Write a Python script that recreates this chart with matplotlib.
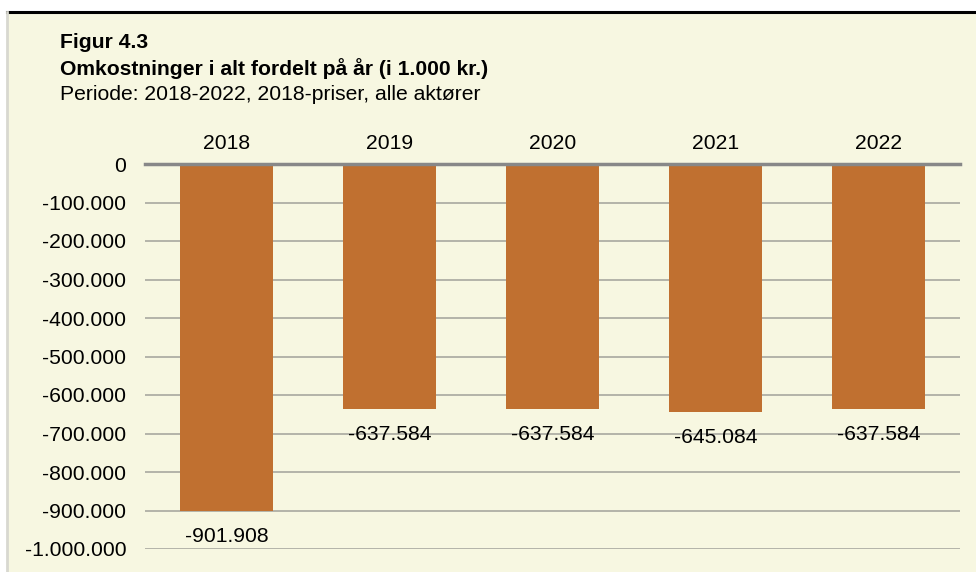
import matplotlib.pyplot as plt
from matplotlib.patches import Rectangle
from matplotlib.lines import Line2D
from matplotlib.ticker import FuncFormatter

plt.rcParams['font.family'] = ['Liberation Sans', 'DejaVu Sans']

years = ['2018', '2019', '2020', '2021', '2022']
costs = [-901908, -637584, -637584, -645084, -637584]

BG = '#F7F7E1'
BAR = '#C07030'
W, H = 976, 572
FS = 15.2


def thousands(v, pos=None):
    s = f"{abs(int(round(v))):,}".replace(',', '.')
    return ('-' if v < 0 else '') + s


fig = plt.figure(figsize=(9.76, 5.72), dpi=100)
fig.patch.set_facecolor('white')

# cream panel with black top rule and light grey left border
fig.add_artist(Rectangle((7 / W, 0), 1 - 7 / W, 1 - 12 / H, transform=fig.transFigure,
                         facecolor=BG, edgecolor='none', zorder=0))
fig.add_artist(Line2D([7 / W, 1], [1 - 12 / H, 1 - 12 / H], transform=fig.transFigure,
                      color='black', lw=2.2))
fig.add_artist(Line2D([7 / W, 7 / W], [0, 1 - 12 / H], transform=fig.transFigure,
                      color='#D8D8D0', lw=2))

ax = fig.add_axes([145 / W, 1 - 549 / H, (960 - 145) / W, (549 - 164) / H])
ax.set_facecolor('none')

x = range(len(years))
ax.bar(x, costs, width=0.57, color=BAR, zorder=2)
for xi, v in zip(x, costs):
    ax.annotate(thousands(v), (xi, v), xytext=(0, -11), textcoords='offset points',
                ha='center', va='top', fontsize=FS, color='black', zorder=3)

ax.set_xlim(-0.5, len(years) - 0.5)
ax.set_ylim(-1000000, 0)
ax.set_yticks(range(-1000000, 1, 100000))
ax.yaxis.set_major_formatter(FuncFormatter(thousands))
ax.grid(axis='y', color='#A8A8A0', lw=1.2, zorder=1)
ax.axhline(0, color='#888888', lw=2.5, zorder=3, clip_on=False)

ax.set_xticks(list(x))
ax.set_xticklabels(years)
ax.xaxis.tick_top()
ax.tick_params(axis='x', length=0, pad=8, labelsize=FS)
ax.tick_params(axis='y', length=0, pad=13.5, labelsize=FS)
for s in ax.spines.values():
    s.set_visible(False)

fig.text(60 / W, 1 - 43 / H, 'Figur 4.3', fontsize=FS, fontweight='bold', va='center')
fig.text(60 / W, 1 - 69 / H, 'Omkostninger i alt fordelt på år (i 1.000 kr.)',
         fontsize=FS, fontweight='bold', va='center')
fig.text(60 / W, 1 - 94 / H, 'Periode: 2018-2022, 2018-priser, alle aktører',
         fontsize=FS, va='center')

fig.savefig('out.png', dpi=100, facecolor=fig.get_facecolor())
